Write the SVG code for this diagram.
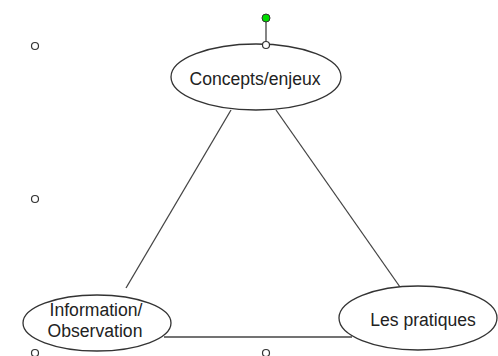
<svg xmlns="http://www.w3.org/2000/svg" width="498" height="356" viewBox="0 0 498 356">
<style>
.n{fill:#fff;stroke:#333;stroke-width:1.3}
.t{font-family:"Liberation Sans",Arial,sans-serif;font-size:17.6px;fill:#222;text-anchor:middle}
.h{fill:#fff;stroke:#333;stroke-width:1.2}
.c{stroke:#444;stroke-width:1.3;fill:none}
</style>
<rect width="498" height="356" fill="#fff"/>
<g id="connectors">
<line class="c" x1="231" y1="110" x2="126" y2="288"/>
<line class="c" x1="276" y1="110" x2="400" y2="287"/>
<line class="c" x1="164" y1="337" x2="352" y2="337"/>
</g>
<g id="concepts">
<ellipse class="n" cx="256" cy="77" rx="85" ry="33"/>
<text class="t" x="255" y="85">Concepts/enjeux</text>
</g>
<g id="information">
<ellipse class="n" cx="97" cy="323" rx="74" ry="28"/>
<text class="t" x="96" y="316">Information/</text>
<text class="t" x="95" y="337">Observation</text>
</g>
<g id="pratiques">
<ellipse class="n" cx="418" cy="318" rx="79" ry="32"/>
<text class="t" x="423" y="326">Les pratiques</text>
</g>
<g id="handles">
<line x1="266" y1="21" x2="266" y2="42" stroke="#333" stroke-width="1.2"/>
<circle cx="266" cy="18" r="4" fill="#00dd00" stroke="#333" stroke-width="1"/>
<circle class="h" cx="266" cy="45" r="3.5"/>
<circle class="h" cx="35" cy="46" r="3.5"/>
<circle class="h" cx="35" cy="199" r="3.5"/>
<circle class="h" cx="35" cy="353" r="3.5"/>
<circle class="h" cx="266" cy="353" r="3.5"/>
</g>
</svg>
